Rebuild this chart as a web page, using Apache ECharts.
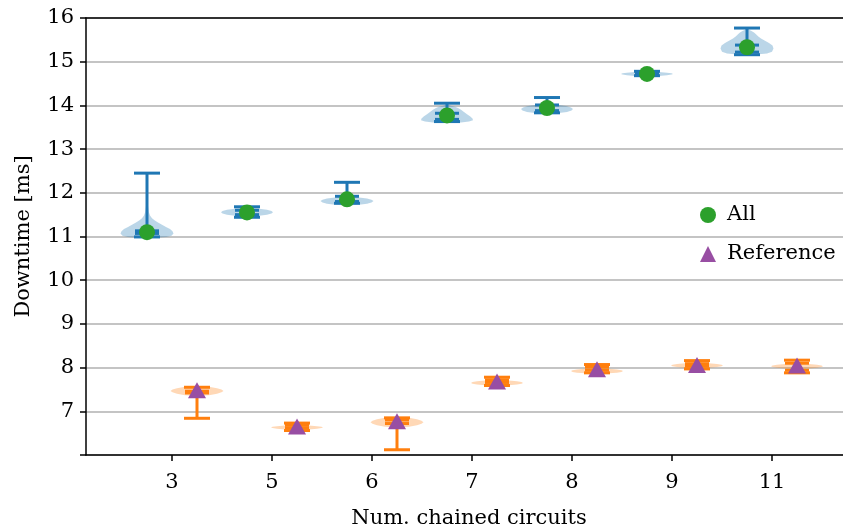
<!DOCTYPE html>
<html>
<head>
<meta charset="utf-8">
<script src="https://cdn.jsdelivr.net/npm/echarts@6/dist/echarts.min.js"></script>
<style>html,body{margin:0;padding:0;background:#fff}#c{width:843px;height:527px}</style>
</head>
<body>
<div id="c"></div>
<script>
const categories = ['3', '5', '6', '7', '8', '9', '11'];
const yTicks = [7, 8, 9, 10, 11, 12, 13, 14, 15, 16];

// "All" group
const allMean = [11.10, 11.55, 11.85, 13.77, 13.94, 14.72, 15.33];
const allMin  = [10.99, 11.44, 11.76, 13.63, 13.83, 14.68, 15.16];
const allQ1   = [11.07, 11.50, 11.80, 13.68, 13.88, 14.70, 15.22];
const allQ3   = [11.13, 11.60, 11.92, 13.82, 14.01, 14.75, 15.38];
const allMax  = [12.45, 11.68, 12.24, 14.05, 14.18, 14.78, 15.77];
const allProfiles = [
  [[10.96,0],[10.975,0.12],[10.99,0.19],[11.02,0.245],[11.07,0.265],[11.12,0.255],[11.17,0.23],[11.22,0.19],[11.27,0.15],[11.32,0.11],[11.37,0.075],[11.42,0.05],[11.48,0.03],[11.56,0.018],[11.70,0.01],[11.95,0.005],[12.45,0]],
  [[11.46,0],[11.475,0.12],[11.50,0.20],[11.528,0.245],[11.555,0.26],[11.582,0.245],[11.61,0.20],[11.635,0.12],[11.65,0]],
  [[11.71,0],[11.725,0.12],[11.75,0.20],[11.78,0.245],[11.81,0.265],[11.84,0.245],[11.87,0.20],[11.895,0.12],[11.91,0.03],[11.95,0.01],[12.05,0.004],[12.24,0]],
  [[13.60,0],[13.61,0.14],[13.63,0.22],[13.66,0.26],[13.70,0.255],[13.75,0.23],[13.80,0.20],[13.85,0.17],[13.90,0.14],[13.94,0.11],[13.97,0.08],[13.99,0.04],[14.02,0.01],[14.05,0]],
  [[13.81,0],[13.825,0.12],[13.85,0.20],[13.885,0.245],[13.915,0.26],[13.95,0.24],[13.985,0.19],[14.015,0.11],[14.04,0.02],[14.08,0.005],[14.18,0]],
  [[14.665,0],[14.675,0.12],[14.69,0.20],[14.705,0.245],[14.72,0.26],[14.735,0.245],[14.75,0.20],[14.765,0.12],[14.775,0]],
  [[15.16,0],[15.17,0.12],[15.19,0.20],[15.23,0.25],[15.30,0.265],[15.37,0.255],[15.43,0.22],[15.48,0.18],[15.53,0.14],[15.58,0.11],[15.63,0.09],[15.67,0.07],[15.70,0.045],[15.73,0.02],[15.77,0]]
];

// "Reference" group
const refMean = [7.48, 6.65, 6.77, 7.68, 7.96, 8.06, 8.05];
const refMin  = [6.84, 6.56, 6.12, 7.59, 7.88, 7.97, 7.88];
const refQ1   = [7.42, 6.62, 6.72, 7.66, 7.94, 8.03, 7.94];
const refQ3   = [7.46, 6.68, 6.80, 7.72, 8.01, 8.09, 8.10];
const refMax  = [7.55, 6.73, 6.85, 7.78, 8.07, 8.16, 8.17];
const refProfiles = [
  [[6.84,0],[7.10,0.004],[7.30,0.01],[7.355,0.03],[7.37,0.12],[7.40,0.20],[7.435,0.245],[7.465,0.265],[7.50,0.245],[7.53,0.20],[7.56,0.12],[7.575,0]],
  [[6.575,0],[6.585,0.12],[6.60,0.20],[6.615,0.245],[6.63,0.26],[6.645,0.245],[6.66,0.20],[6.675,0.12],[6.685,0]],
  [[6.12,0],[6.40,0.004],[6.60,0.01],[6.63,0.03],[6.648,0.12],[6.68,0.20],[6.715,0.245],[6.75,0.265],[6.785,0.245],[6.82,0.20],[6.852,0.12],[6.87,0]],
  [[7.585,0],[7.598,0.12],[7.615,0.20],[7.632,0.245],[7.65,0.26],[7.668,0.245],[7.685,0.20],[7.702,0.12],[7.715,0]],
  [[7.855,0],[7.868,0.12],[7.885,0.20],[7.902,0.245],[7.92,0.26],[7.938,0.245],[7.955,0.20],[7.972,0.12],[7.985,0]],
  [[7.985,0],[7.998,0.12],[8.015,0.20],[8.032,0.245],[8.05,0.26],[8.068,0.245],[8.085,0.20],[8.102,0.12],[8.115,0]],
  [[7.965,0],[7.978,0.12],[7.995,0.20],[8.012,0.245],[8.03,0.26],[8.048,0.245],[8.065,0.20],[8.082,0.12],[8.095,0]]
];

const OFFSET = 0.25;
const FONT = 'DejaVu Serif';
const BLUE = '#1f77b4', ORANGE = '#ff7f0e';

function violinSeries(profiles, off, color) {
  return {
    type: 'custom', z: 1, silent: true,
    data: categories.map((c, i) => [i + off, i]),
    renderItem: function (params, api) {
      const xc = api.value(0), idx = api.value(1);
      const prof = profiles[idx];
      const right = prof.map(p => api.coord([xc + p[1], p[0]]));
      const left = prof.slice().reverse().map(p => api.coord([xc - p[1], p[0]]));
      return { type: 'polygon', shape: { points: right.concat(left) },
               style: { fill: color, opacity: 0.3, stroke: null } };
    }
  };
}

function barSeries(mn, q1, q3, mx, off, color) {
  return {
    type: 'custom', z: 2, silent: true,
    data: categories.map((c, i) => [i + off, mn[i], q1[i], q3[i], mx[i]]),
    renderItem: function (params, api) {
      const xc = api.value(0);
      const vals = [api.value(1), api.value(2), api.value(3), api.value(4)];
      const st = { stroke: color, lineWidth: 3 };
      const hl = (v, w) => {
        const a = api.coord([xc - w, v]), b = api.coord([xc + w, v]);
        return { type: 'line', shape: { x1: a[0], y1: a[1], x2: b[0], y2: b[1] }, style: st };
      };
      const top = api.coord([xc, vals[3]]), bot = api.coord([xc, vals[0]]);
      return { type: 'group', children: [
        { type: 'line', shape: { x1: top[0], y1: top[1], x2: bot[0], y2: bot[1] }, style: st },
        hl(vals[0], 0.13), hl(vals[3], 0.13), hl(vals[1], 0.12), hl(vals[2], 0.12)
      ]};
    }
  };
}

const chart = echarts.init(document.getElementById('c'), null, { renderer: 'canvas' });
const xIdx = categories.map((c, i) => i);
chart.setOption({
  animation: false,
  backgroundColor: '#fff',
  grid: { left: 86, width: 766, top: 18, bottom: 72, containLabel: false, outerBoundsMode: 'none' },
  legend: {
    orient: 'vertical', left: 700, top: 204, padding: 0,
    itemWidth: 16, itemHeight: 16, itemGap: 17, itemTextGap: 12,
    textStyle: { fontFamily: FONT, fontSize: 21, color: '#000', lineHeight: 22, padding: [0, 0, 0, 6] },
    data: [{ name: 'All', icon: 'circle' }, { name: 'Reference', icon: 'triangle' }]
  },
  xAxis: [{
    type: 'value', min: -0.86, max: 6.80,
    name: 'Num. chained circuits', nameLocation: 'middle', nameGap: 53,
    nameTextStyle: { fontFamily: FONT, fontSize: 21, color: '#000' },
    axisLine: { show: true, onZero: false, lineStyle: { color: '#000', width: 1.5 } },
    axisTick: { show: true, length: 6, customValues: xIdx, lineStyle: { color: '#000', width: 1.5 } },
    axisLabel: { customValues: xIdx, margin: 17, fontFamily: FONT, fontSize: 21, color: '#000',
                 formatter: v => categories[Math.round(v)] },
    splitLine: { show: false }
  }, {
    type: 'value', min: -0.86, max: 6.80, position: 'top',
    axisLine: { show: true, onZero: false, lineStyle: { color: '#000', width: 1.5 } },
    axisTick: { show: false }, axisLabel: { show: false }, splitLine: { show: false }
  }],
  yAxis: {
    type: 'value', min: 6, max: 16, interval: 1,
    name: 'Downtime [ms]', nameLocation: 'middle', nameGap: 52,
    nameTextStyle: { fontFamily: FONT, fontSize: 21, color: '#000' },
    axisLine: { show: true, onZero: false, lineStyle: { color: '#000', width: 1.5 } },
    axisTick: { show: true, length: 6, lineStyle: { color: '#000', width: 1.5 } },
    axisLabel: { margin: 12, fontFamily: FONT, fontSize: 21, color: '#000',
                 formatter: v => (yTicks.indexOf(v) >= 0 ? String(v) : '') },
    splitLine: { show: true, lineStyle: { color: '#b0b0b0', width: 1.6 } }
  },
  series: [
    violinSeries(allProfiles, -OFFSET, BLUE),
    violinSeries(refProfiles, OFFSET, ORANGE),
    barSeries(allMin, allQ1, allQ3, allMax, -OFFSET, BLUE),
    barSeries(refMin, refQ1, refQ3, refMax, OFFSET, ORANGE),
    { name: 'All', type: 'scatter', z: 3, symbol: 'circle', symbolSize: 16,
      itemStyle: { color: '#2ca02c', opacity: 1 },
      data: categories.map((c, i) => [i - OFFSET, allMean[i]]) },
    { name: 'Reference', type: 'scatter', z: 3, symbol: 'triangle', symbolSize: [18, 16],
      itemStyle: { color: '#984ea3', opacity: 1 },
      data: categories.map((c, i) => [i + OFFSET, refMean[i]]) }
  ]
});
</script>
</body>
</html>
